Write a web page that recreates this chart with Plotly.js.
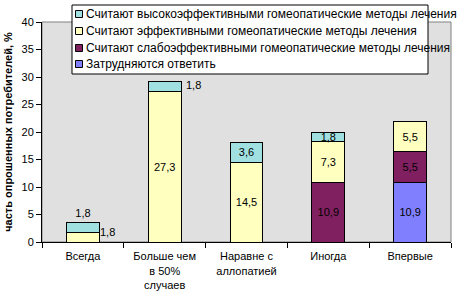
<!DOCTYPE html>
<html>
<head>
<meta charset="utf-8">
<script src="https://cdn.plot.ly/plotly-3.0.1.min.js"></script>
<style>html,body{margin:0;padding:0;background:#fff;}#chart{width:457px;height:297px;}</style>
</head>
<body>
<div id="chart"></div>
<script>
const categories = ["Всегда", "Больше чем<br>в 50%<br>случаев", "Наравне с<br>аллопатией", "Иногда", "Впервые"];
const seriesNames = [
  "Затрудняются ответить",
  "Считают слабоэффективными гомеопатические методы лечения",
  "Считают эффективными гомеопатические методы лечения",
  "Считают высокоэффективными гомеопатические методы лечения"
];
const unsure = [null, null, null, null, 10.9];
const weak = [null, null, null, 10.9, 5.5];
const effective = [1.8, 27.3, 14.5, 7.3, 5.5];
const high = [1.8, 1.8, 3.6, 1.8, null];
const colors = ["#8080ff", "#802060", "#ffffc0", "#a0e0e0"];

// label placement per point (style)
const effPos = ["none", "inside", "inside", "inside", "inside"];
const highPos = ["outside", "none", "inside", "inside", "none"];

const W = 457, H = 297;
const M = {l: 42, r: 6, t: 22, b: 55};
const PW = W - M.l - M.r, PH = H - M.t - M.b;
const px = x => (x - M.l) / PW;
const py = y => (H - M.b - y) / PH;

const font = "Liberation Sans, Arial, sans-serif";
function mk(vals, i, pos) {
  return {
    type: "bar", x: categories, y: vals, name: seriesNames[i],
    marker: {color: colors[i], line: {color: "#000", width: 1}},
    width: 0.4,
    texttemplate: "%{y:.1f}",
    textposition: pos || "inside",
    insidetextanchor: "middle",
    constraintext: "none",
    textangle: 0,
    textfont: {family: font, size: 11, color: "#000"},
    cliponaxis: false,
    showlegend: false,
    hoverinfo: "skip"
  };
}
const data = [
  mk(unsure, 0),
  mk(weak, 1),
  mk(effective, 2, effPos),
  mk(high, 3, highPos)
];

const fmt = v => v.toFixed(1).replace(".", ",");
const annotations = [
  {x: categories[0], y: effective[0], text: fmt(effective[0]), xshift: 25, yshift: 0},
  {x: categories[1], y: effective[1] + high[1] / 2, text: fmt(high[1]), xshift: 29, yshift: 2}
].map(a => Object.assign({showarrow: false, xref: "x", yref: "y", font: {family: font, size: 11, color: "#000"}}, a));

// Legend box (drawn as shapes + annotations, top entry = last series)
const shapes = [
  {type: "rect", xref: "paper", yref: "paper", x0: 0, x1: 1, y0: 0, y1: 1,
   line: {color: "#808080", width: 1}, layer: "below"},
  {type: "rect", xref: "paper", yref: "paper", x0: px(72), x1: px(428), y0: py(74), y1: py(5),
   fillcolor: "#ffffff", line: {color: "#000", width: 1}, layer: "above"}
];
const rowY = [14, 31, 48, 64];
for (let k = 0; k < seriesNames.length; k++) {
  const i = seriesNames.length - 1 - k;
  const cy = rowY[k];
  shapes.push({type: "rect", xref: "paper", yref: "paper",
    x0: px(75.5), x1: px(82.5), y0: py(cy + 3.5), y1: py(cy - 3.5),
    fillcolor: colors[i], line: {color: "#000", width: 1}, layer: "above"});
  annotations.push({xref: "paper", yref: "paper", x: px(84), y: py(cy), xanchor: "left", yanchor: "middle",
    text: seriesNames[i], showarrow: false, font: {family: font, size: 12, color: "#000"}});
}

const layout = {
  width: W, height: H,
  margin: M,
  barmode: "stack",
  separators: ", ",
  paper_bgcolor: "#ffffff",
  plot_bgcolor: "#e0e0e0",
  font: {family: font, size: 11, color: "#000"},
  showlegend: false,
  xaxis: {
    showgrid: false, zeroline: false,
    showline: true, linecolor: "#000", linewidth: 1,
    ticks: "outside", tickson: "boundaries", ticklen: 5, tickcolor: "#000",
    tickangle: 0, ticklabelstandoff: 4,
    tickfont: {family: font, size: 11, color: "#000"},
    fixedrange: true
  },
  yaxis: {
    range: [0, 40], dtick: 5,
    showgrid: false, zeroline: false,
    showline: true, linecolor: "#000", linewidth: 1,
    ticks: "outside", ticklen: 5, tickcolor: "#000",
    tickfont: {family: font, size: 11, color: "#000"},
    title: {text: "<b>часть опрошенных потребителей, %</b>", font: {family: font, size: 11, color: "#000"}, standoff: 6},
    fixedrange: true
  },
  shapes: shapes,
  annotations: annotations
};
Plotly.newPlot("chart", data, layout, {displayModeBar: false, staticPlot: true});
</script>
</body>
</html>
